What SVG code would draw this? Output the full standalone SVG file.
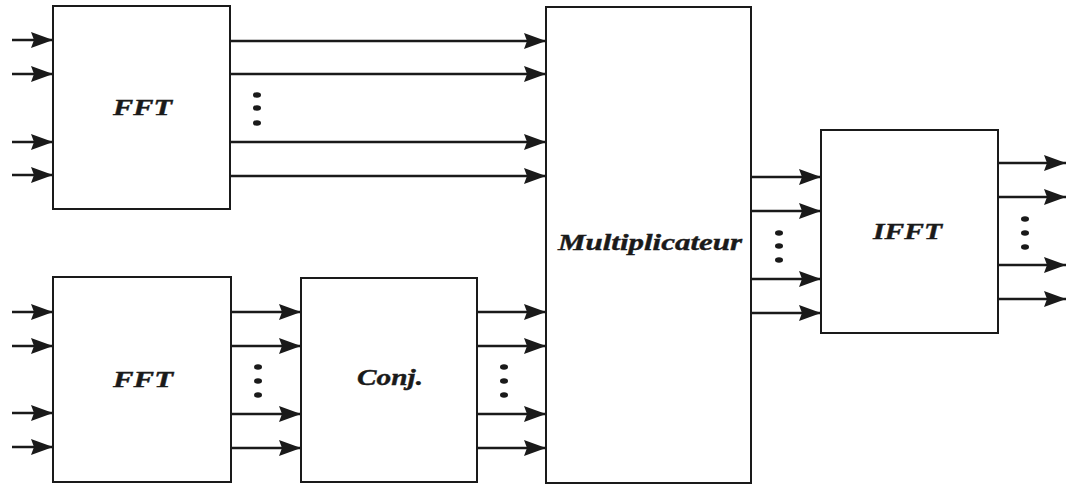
<svg xmlns="http://www.w3.org/2000/svg" width="1067" height="486" viewBox="0 0 1067 486">
<defs>
<marker id="ah" markerWidth="24" markerHeight="18" refX="22" refY="9" orient="auto" markerUnits="userSpaceOnUse">
<path d="M0,1 L22,9 L0,17 L3,9 Z" fill="#1a1a1a"/>
</marker>
<style>
.box{fill:#fff;stroke:#1a1a1a;stroke-width:2}
.ar{stroke:#1a1a1a;stroke-width:2.5;fill:none;marker-end:url(#ah)}
.lbl{font-family:"Liberation Serif",serif;font-weight:bold;font-style:italic;fill:#1a1a1a;stroke:#1a1a1a;stroke-width:0.4}
.dot{fill:#1a1a1a}
</style>
</defs>
<rect width="1067" height="486" fill="#fff"/>
<g id="connectors">
<line class="ar" x1="12" y1="40" x2="53" y2="40"/>
<line class="ar" x1="12" y1="74" x2="53" y2="74"/>
<line class="ar" x1="12" y1="142" x2="53" y2="142"/>
<line class="ar" x1="12" y1="175" x2="53" y2="175"/>
<line class="ar" x1="230" y1="41" x2="546" y2="41"/>
<line class="ar" x1="230" y1="74" x2="546" y2="74"/>
<line class="ar" x1="230" y1="142" x2="546" y2="142"/>
<line class="ar" x1="230" y1="176" x2="546" y2="176"/>
<line class="ar" x1="12" y1="312" x2="53" y2="312"/>
<line class="ar" x1="12" y1="346" x2="53" y2="346"/>
<line class="ar" x1="12" y1="413" x2="53" y2="413"/>
<line class="ar" x1="12" y1="447" x2="53" y2="447"/>
<line class="ar" x1="231" y1="312" x2="301" y2="312"/>
<line class="ar" x1="231" y1="346" x2="301" y2="346"/>
<line class="ar" x1="231" y1="414" x2="301" y2="414"/>
<line class="ar" x1="231" y1="448" x2="301" y2="448"/>
<line class="ar" x1="477" y1="312" x2="546" y2="312"/>
<line class="ar" x1="477" y1="346" x2="546" y2="346"/>
<line class="ar" x1="477" y1="414" x2="546" y2="414"/>
<line class="ar" x1="477" y1="448" x2="546" y2="448"/>
<line class="ar" x1="751" y1="177" x2="821" y2="177"/>
<line class="ar" x1="751" y1="211" x2="821" y2="211"/>
<line class="ar" x1="751" y1="279" x2="821" y2="279"/>
<line class="ar" x1="751" y1="313" x2="821" y2="313"/>
<line class="ar" x1="998" y1="163" x2="1066" y2="163"/>
<line class="ar" x1="998" y1="197" x2="1066" y2="197"/>
<line class="ar" x1="998" y1="265" x2="1066" y2="265"/>
<line class="ar" x1="998" y1="299" x2="1066" y2="299"/>
<g id="ellipses">
<ellipse class="dot" cx="257" cy="95" rx="4" ry="2.8"/>
<ellipse class="dot" cx="257" cy="108" rx="4" ry="2.8"/>
<ellipse class="dot" cx="257" cy="123" rx="4" ry="2.8"/>
<ellipse class="dot" cx="258" cy="367" rx="4" ry="2.8"/>
<ellipse class="dot" cx="258" cy="381" rx="4" ry="2.8"/>
<ellipse class="dot" cx="258" cy="395" rx="4" ry="2.8"/>
<ellipse class="dot" cx="504" cy="367" rx="4" ry="2.8"/>
<ellipse class="dot" cx="504" cy="381" rx="4" ry="2.8"/>
<ellipse class="dot" cx="504" cy="395" rx="4" ry="2.8"/>
<ellipse class="dot" cx="779" cy="233" rx="4" ry="2.8"/>
<ellipse class="dot" cx="779" cy="246" rx="4" ry="2.8"/>
<ellipse class="dot" cx="779" cy="260" rx="4" ry="2.8"/>
<ellipse class="dot" cx="1025" cy="219" rx="4" ry="2.8"/>
<ellipse class="dot" cx="1025" cy="233" rx="4" ry="2.8"/>
<ellipse class="dot" cx="1025" cy="247" rx="4" ry="2.8"/>
</g>
</g>
<g id="fft1">
<rect class="box" x="53" y="6" width="177" height="203"/>
<text class="lbl" x="113" y="115" font-size="23" textLength="59" lengthAdjust="spacingAndGlyphs">FFT</text>
</g>
<g id="fft2">
<rect class="box" x="53" y="277" width="178" height="205"/>
<text class="lbl" x="113" y="387" font-size="23" textLength="60" lengthAdjust="spacingAndGlyphs">FFT</text>
</g>
<g id="conj">
<rect class="box" x="301" y="278" width="176" height="204"/>
<text class="lbl" x="357" y="385" font-size="23" textLength="66" lengthAdjust="spacingAndGlyphs">Conj.</text>
</g>
<g id="multiplicateur">
<rect class="box" x="546" y="7" width="205" height="476"/>
<text class="lbl" x="558" y="250" font-size="23" textLength="184" lengthAdjust="spacingAndGlyphs">Multiplicateur</text>
</g>
<g id="ifft">
<rect class="box" x="821" y="130" width="177" height="203"/>
<text class="lbl" x="873" y="239" font-size="23" textLength="69" lengthAdjust="spacingAndGlyphs">IFFT</text>
</g>
</svg>
